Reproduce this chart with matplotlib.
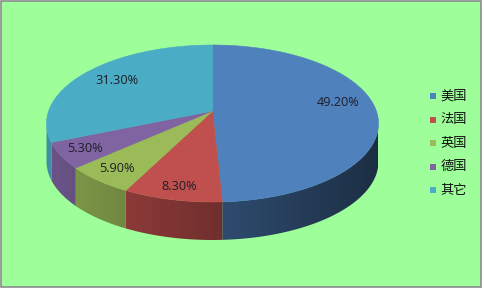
import numpy as np
import matplotlib
matplotlib.use("Agg")
import matplotlib.pyplot as plt
from matplotlib.patches import Polygon, Rectangle

# ---- data ----
categories = ["美国", "法国", "英国", "德国", "其它"]
values = [49.2, 8.3, 5.9, 5.3, 31.3]
value_labels = ["49.20%", "8.30%", "5.90%", "5.30%", "31.30%"]

# ---- style / layout ----
colors = ["#4F81BD", "#C0504D", "#9BBB59", "#8064A2", "#4BACC6"]
label_pos = [(338, 102), (179, 187), (117, 169), (85, 148), (117, 81)]
cx, cy, A, B = 212.5, 123.5, 166.0, 78.5
persp = 0.159
depth = 38.0
t = np.arctanh(persp)
ch, sh = np.cosh(t), np.sinh(t)


def proj(theta, r=1.0):
    """theta: radians clockwise from top, r: radius on unit circle."""
    x = r * np.sin(theta)
    y = r * np.cos(theta)
    w = y * sh + ch
    X = x / w
    Y = (y * ch + sh) / w
    return cx + A * X, cy - B * Y, Y


def rgb(h):
    h = h.lstrip('#')
    return np.array([int(h[i:i + 2], 16) / 255 for i in (0, 2, 4)])


fig = plt.figure(figsize=(4.85, 2.91), dpi=100)
ax = fig.add_axes([0, 0, 1, 1])
ax.set_xlim(0, 485)
ax.set_ylim(291, 0)
ax.axis('off')

ax.add_patch(Rectangle((1, 1), 480, 286, facecolor="#9EFF9A",
                       edgecolor="#8C8C8C", linewidth=1.2, zorder=0))

total = sum(values)
cum = np.concatenate([[0], np.cumsum(values)]) / total * 2 * np.pi

# side faces (shaded with a horizontal gradient, clipped to each wedge's side)
xs = np.linspace(cx - A, cx + A, 400)
shade = np.clip(0.6 - 0.24 * (xs - cx) / A, 0, 1)
for i in range(len(values)):
    th = np.linspace(cum[i], cum[i + 1], 200)
    px, py, Y = proj(th)
    keep = Y <= 0.001
    if keep.sum() < 2:
        continue
    px, py = px[keep], py[keep]
    poly_pts = list(zip(px, py)) + list(zip(px[::-1], py[::-1] + depth))
    base = rgb(colors[i])
    side = Polygon(poly_pts, closed=True, facecolor='none', edgecolor='none')
    ax.add_patch(side)
    img = np.clip(shade[None, :, None] * base[None, None, :], 0, 1)
    im = ax.imshow(img, extent=(cx - A, cx + A, cy + B + depth + 5, cy - 5),
                   aspect='auto', interpolation='bilinear', zorder=1)
    im.set_clip_path(side)

ax.set_xlim(0, 485)
ax.set_ylim(291, 0)

# top faces
ax_x, ax_y, _ = proj(0.0, 0.0)
for i in range(len(values)):
    th = np.linspace(cum[i], cum[i + 1], 200)
    px, py, _ = proj(th)
    pts = [(ax_x, ax_y)] + list(zip(px, py))
    ax.add_patch(Polygon(pts, closed=True, facecolor=colors[i],
                         edgecolor=colors[i], linewidth=0.4, zorder=2))

for lab, (lx, ly) in zip(value_labels, label_pos):
    ax.text(lx, ly, lab, ha='center', va='center', fontsize=9.2,
            family=["Open Sans", "DejaVu Sans"], color="#1E1E28", zorder=3)

# legend
for k, (cat, col) in enumerate(zip(categories, colors)):
    yy = 96 + k * 23.6
    ax.add_patch(Rectangle((430.5, yy - 3), 6, 6, facecolor=col,
                           edgecolor='none', zorder=3))
    ax.text(440.5, yy, cat, ha='left', va='center', fontsize=9.5,
            family=["Noto Sans CJK SC", "DejaVu Sans"], color="#111111",
            zorder=3)

fig.savefig("out.png", dpi=100)
